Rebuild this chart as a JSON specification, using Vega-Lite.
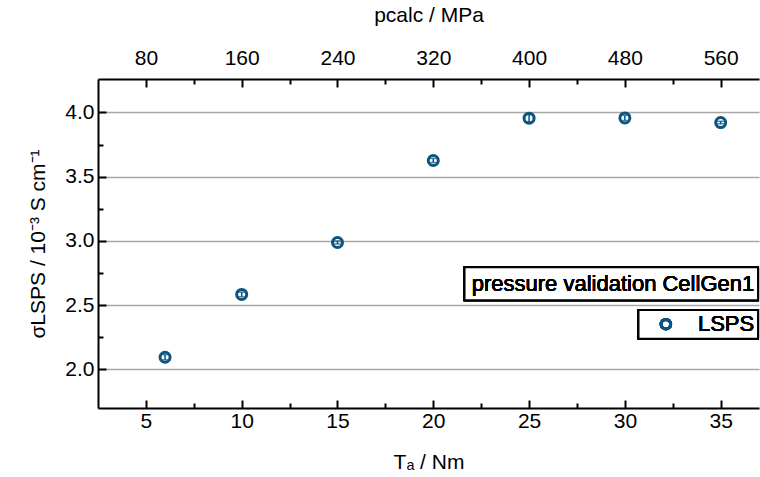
{
  "$schema": "https://vega.github.io/schema/vega-lite/v6.json",
  "width": 661,
  "height": 329,
  "autosize": "none",
  "padding": {"left": 98, "top": 79, "right": 1, "bottom": 69},
  "background": "white",
  "config": {
    "view": {"stroke": null},
    "font": "Liberation Sans",
    "axis": {
      "labelFont": "Liberation Sans",
      "titleFont": "Liberation Sans",
      "labelFontSize": 21,
      "titleFontSize": 21,
      "titleFontWeight": "normal",
      "labelColor": "black",
      "titleColor": "black",
      "domainColor": "black",
      "domainWidth": 2,
      "tickColor": "black",
      "tickWidth": 2,
      "gridColor": "#a6a6a6",
      "gridWidth": 1.5
    }
  },
  "data": {
    "values": [
      {"T": 6, "p": 96, "sigma": 2.095, "lo": 2.075, "hi": 2.115, "series": "LSPS"},
      {"T": 10, "p": 160, "sigma": 2.584, "lo": 2.566, "hi": 2.602, "series": "LSPS"},
      {"T": 15, "p": 240, "sigma": 2.988, "lo": 2.976, "hi": 3.0, "series": "LSPS"},
      {"T": 20, "p": 320, "sigma": 3.626, "lo": 3.61, "hi": 3.642, "series": "LSPS"},
      {"T": 25, "p": 400, "sigma": 3.955, "lo": 3.928, "hi": 3.982, "series": "LSPS"},
      {"T": 30, "p": 480, "sigma": 3.957, "lo": 3.937, "hi": 3.977, "series": "LSPS"},
      {"T": 35, "p": 560, "sigma": 3.921, "lo": 3.911, "hi": 3.931, "series": "LSPS"}
    ]
  },
  "resolve": {"scale": {"x": "independent"}, "axis": {"y": "independent"}},
  "layer": [
    {
      "mark": {"type": "rule", "color": "#0B5480", "strokeWidth": 1.5},
      "encoding": {
        "x": {"field": "T", "type": "quantitative",
          "scale": {"domain": [2.5, 37], "nice": false, "zero": false},
          "axis": {"orient": "bottom", "values": [5, 10, 15, 20, 25, 30, 35], "tickSize": -8, "labelPadding": 10, "grid": false, "title": "Tₐ / Nm", "titlePadding": 20}},
        "y": {"field": "lo", "type": "quantitative",
          "scale": {"domain": [1.7, 4.26], "nice": false, "zero": false},
          "axis": {"orient": "left", "values": [2.0, 2.5, 3.0, 3.5, 4.0], "format": ".1f", "tickSize": -8, "labelPadding": 12, "grid": true, "title": "σLSPS  / 10⁻³ S cm⁻¹", "titlePadding": 16}},
        "y2": {"field": "hi"}
      }
    },
    {
      "mark": {"type": "tick", "orient": "horizontal", "color": "#0B5480", "size": 10, "thickness": 1.5},
      "encoding": {
        "x": {"field": "T", "type": "quantitative",
          "scale": {"domain": [2.5, 37], "nice": false, "zero": false},
          "axis": {"orient": "bottom", "values": [7.5, 12.5, 17.5, 22.5, 27.5, 32.5], "tickSize": -5, "labels": false, "domain": false, "grid": false, "title": null}},
        "y": {"field": "lo", "type": "quantitative",
          "scale": {"domain": [1.7, 4.26], "nice": false, "zero": false},
          "axis": {"orient": "left", "values": [2.25, 2.75, 3.25, 3.75], "tickSize": -5, "labels": false, "domain": false, "grid": false, "title": null}}
      }
    },
    {
      "mark": {"type": "tick", "orient": "horizontal", "color": "#0B5480", "size": 10, "thickness": 1.5},
      "encoding": {
        "x": {"field": "T", "type": "quantitative",
          "scale": {"domain": [2.5, 37], "nice": false, "zero": false}, "axis": null},
        "y": {"field": "hi", "type": "quantitative",
          "scale": {"domain": [1.7, 4.26], "nice": false, "zero": false}, "axis": null}
      }
    },
    {
      "mark": {"type": "point", "shape": "circle", "filled": false, "strokeWidth": 3, "size": 100, "color": "#0B5480", "opacity": 1},
      "encoding": {
        "x": {"field": "T", "type": "quantitative",
          "scale": {"domain": [2.5, 37], "nice": false, "zero": false}, "axis": null},
        "y": {"field": "sigma", "type": "quantitative",
          "scale": {"domain": [1.7, 4.26], "nice": false, "zero": false}, "axis": null}
      }
    },
    {
      "mark": {"type": "point", "opacity": 0},
      "encoding": {
        "x": {"field": "p", "type": "quantitative",
          "scale": {"domain": [40, 592], "nice": false, "zero": false},
          "axis": {"orient": "top", "values": [80, 160, 240, 320, 400, 480, 560], "tickSize": -8, "labelPadding": 19, "grid": false, "title": "pcalc / MPa", "titlePadding": 22}},
        "y": {"field": "sigma", "type": "quantitative",
          "scale": {"domain": [1.7, 4.26], "nice": false, "zero": false}, "axis": null}
      }
    },
    {
      "mark": {"type": "point", "opacity": 0},
      "encoding": {
        "x": {"field": "p", "type": "quantitative",
          "scale": {"domain": [40, 592], "nice": false, "zero": false},
          "axis": {"orient": "top", "values": [120, 200, 280, 360, 440, 520], "tickSize": -5, "labels": false, "domain": false, "grid": false, "title": null}},
        "y": {"field": "sigma", "type": "quantitative",
          "scale": {"domain": [1.7, 4.26], "nice": false, "zero": false}, "axis": null}
      }
    },
    {
      "mark": {"type": "rect", "fill": "white", "stroke": "black", "strokeWidth": 2},
      "encoding": {
        "x": {"datum": 21.63, "type": "quantitative", "scale": {"domain": [2.5, 37], "nice": false, "zero": false}, "axis": null},
        "x2": {"datum": 36.95},
        "y": {"datum": 2.796, "type": "quantitative", "scale": {"domain": [1.7, 4.26], "nice": false, "zero": false}, "axis": null},
        "y2": {"datum": 2.538}
      }
    },
    {
      "mark": {"type": "text", "text": "pressure validation CellGen1", "align": "right", "baseline": "middle", "fontSize": 22, "fontWeight": 400, "font": "Liberation Sans", "fill": "black", "strokeWidth": 0},
      "encoding": {
        "x": {"datum": 36.75, "type": "quantitative", "scale": {"domain": [2.5, 37], "nice": false, "zero": false}, "axis": null},
        "y": {"datum": 2.667, "type": "quantitative", "scale": {"domain": [1.7, 4.26], "nice": false, "zero": false}, "axis": null}
      }
    },
    {
      "mark": {"type": "rect", "fill": "white", "stroke": "black", "strokeWidth": 2},
      "encoding": {
        "x": {"datum": 30.71, "type": "quantitative", "scale": {"domain": [2.5, 37], "nice": false, "zero": false}, "axis": null},
        "x2": {"datum": 36.95},
        "y": {"datum": 2.462, "type": "quantitative", "scale": {"domain": [1.7, 4.26], "nice": false, "zero": false}, "axis": null},
        "y2": {"datum": 2.238}
      }
    },
    {
      "mark": {"type": "text", "text": "LSPS", "align": "right", "baseline": "middle", "fontSize": 22, "fontWeight": 400, "font": "Liberation Sans", "fill": "black", "strokeWidth": 0},
      "encoding": {
        "x": {"datum": 36.75, "type": "quantitative", "scale": {"domain": [2.5, 37], "nice": false, "zero": false}, "axis": null},
        "y": {"datum": 2.352, "type": "quantitative", "scale": {"domain": [1.7, 4.26], "nice": false, "zero": false}, "axis": null}
      }
    },
    {
      "mark": {"type": "point", "shape": "circle", "filled": false, "strokeWidth": 3, "size": 90, "color": "#0B5480", "opacity": 1},
      "encoding": {
        "x": {"datum": 32.14, "type": "quantitative", "scale": {"domain": [2.5, 37], "nice": false, "zero": false}, "axis": null},
        "y": {"datum": 2.352, "type": "quantitative", "scale": {"domain": [1.7, 4.26], "nice": false, "zero": false}, "axis": null}
      }
    }
  ]
}
